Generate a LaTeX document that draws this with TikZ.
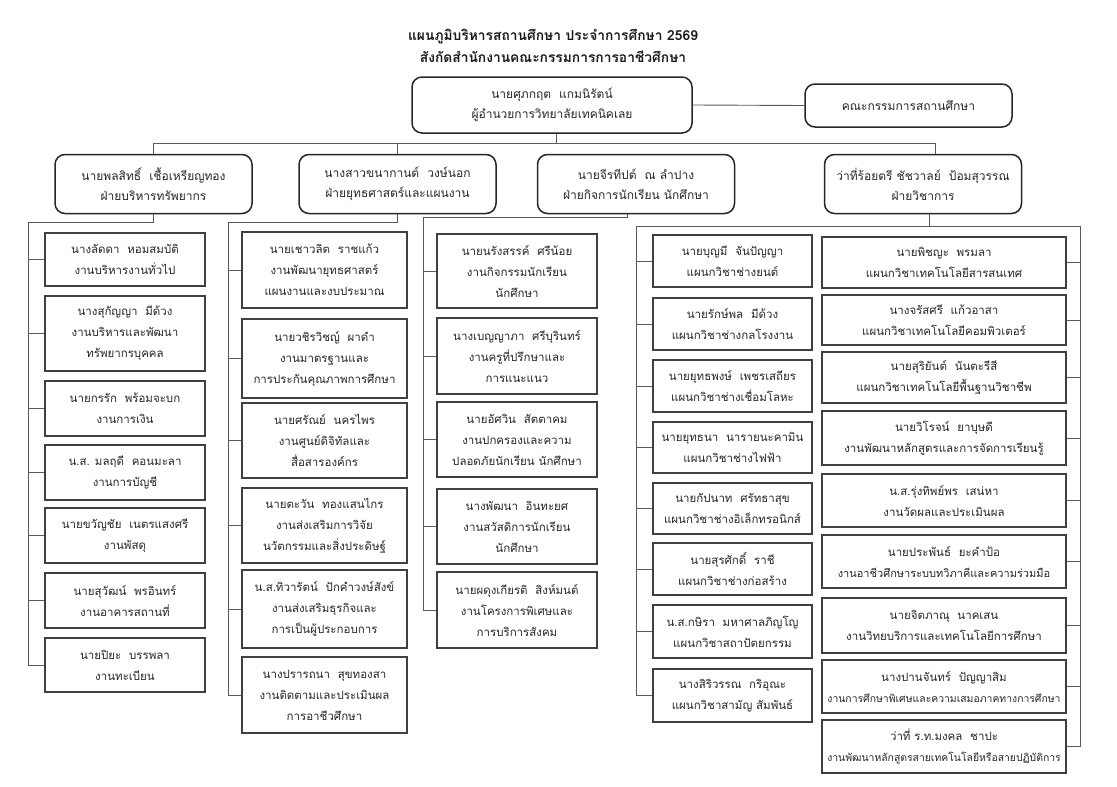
\documentclass[tikz,border=0pt]{standalone}
\usepackage{fontspec}
\newfontfamily\thaifont[Script=Thai]{Loma}
\usepackage{tikz}
\usepackage{xcolor}
\tikzset{
  headbox/.style={draw=black!85, line width=1.5pt, rounded corners=10pt, align=center,
    inner sep=0pt, minimum width=197pt, minimum height=59pt, text=black!85,
    font=\thaifont\fontsize{12}{20}\selectfont},
  unitbox/.style={draw=black!75, line width=1.1pt, align=center, inner sep=0pt,
    text=black!85, font=\thaifont\fontsize{11.5}{21}\selectfont},
  colA/.style={unitbox, minimum width=160pt},
  colB/.style={unitbox, minimum width=165pt},
  colC/.style={unitbox, minimum width=160pt},
  colD/.style={unitbox, minimum width=159pt},
  colE/.style={unitbox, minimum width=244pt},
  link/.style={draw=black!65, line width=0.9pt},
}
\newcommand{\tinyline}[2]{{\fontsize{#1}{21}\selectfont #2}}

\begin{document}
\begin{tikzpicture}[x=1pt, y=-1pt]
  \useasboundingbox (0,0) rectangle (1117,787);

  \node[align=center, text=black!90, font=\thaifont\bfseries\fontsize{13.8}{22}\selectfont] (title) at (553,46)
    {แผนภูมิบริหารสถานศึกษา ประจำการศึกษา 2569\\สังกัดสำนักงานคณะกรรมการการอาชีวศึกษา};

  \node[headbox, minimum width=280pt, minimum height=56pt] (dir) at (552,105)
    {นายศุภกฤต~~แกมนิรัตน์\\ผู้อำนวยการวิทยาลัยเทคนิคเลย};
  \node[headbox, minimum width=207pt, minimum height=43pt] (board) at (908.5,105.5)
    {คณะกรรมการสถานศึกษา};
  \draw[link] (dir.east) -- (board.west);

  % departments
  \node[headbox] (d1) at (153.5,184) {นายพลสิทธิ์~~เชื้อเหรียญทอง\\ฝ่ายบริหารทรัพยากร};
  \node[headbox] (d2) at (397.5,184) {นางสาวขนากานต์~~วงษ์นอก\\ฝ่ายยุทธศาสตร์และแผนงาน};
  \node[headbox] (d3) at (636,184) {นายจีรทีปต์~~ณ ลำปาง\\ฝ่ายกิจการนักเรียน นักศึกษา};
  \node[headbox] (d4) at (923,184) {ว่าที่ร้อยตรี ชัชวาลย์~~ป้อมสุวรรณ\\ฝ่ายวิชาการ};

  \coordinate (top) at ([xshift=4pt]dir.south |- 0,143);
  \draw[link] ([xshift=4pt]dir.south) -- (top);
  \draw[link] (d1.north) |- (top);
  \draw[link] (d2.north) |- (top);
  \draw[link] ([xshift=12pt]d4.north) |- (top);

  % ฝ่ายบริหารทรัพยากร
  \node[colA, minimum height=53pt] (c11) at (125,259.5) {นางลัดดา~~หอมสมบัติ\\งานบริหารงานทั่วไป};
  \node[colA, minimum height=75pt] (c12) at (125,333.5) {นางสุกัญญา~~มีด้วง\\งานบริหารและพัฒนา\\ทรัพยากรบุคคล};
  \node[colA, minimum height=55pt] (c13) at (125,408.5) {นายกรรัก~~พร้อมจะบก\\งานการเงิน};
  \node[colA, minimum height=55pt] (c14) at (125,472.5) {น.ส. มลฤดี~~คอนมะลา\\งานการบัญชี};
  \node[colA, minimum height=55pt] (c15) at (125,535.5) {นายขวัญชัย~~เนตรแสงศรี\\งานพัสดุ};
  \node[colA, minimum height=55pt] (c16) at (125,600.5) {นายสุวัฒน์~~พรอินทร์\\งานอาคารสถานที่};
  \node[colA, minimum height=54pt] (c17) at (125,665) {นายปิยะ~~บรรพลา\\งานทะเบียน};

  \coordinate (b1) at (28,222);
  \draw[link] (d1.south) |- (b1);
  \foreach \n in {c11,c12,c13,c14,c15,c16,c17}
    \draw[link] (b1) |- (\n.west);

  % ฝ่ายยุทธศาสตร์และแผนงาน
  \node[colB, minimum height=76pt] (c21) at (324.5,270) {นายเชาวลิต~~ราชแก้ว\\งานพัฒนายุทธศาสตร์\\แผนงานและงบประมาณ};
  \node[colB, minimum height=79pt] (c22) at (324.5,358.5) {นายวชิรวิชญ์~~ผาดำ\\งานมาตรฐานและ\\การประกันคุณภาพการศึกษา};
  \node[colB, minimum height=75pt] (c23) at (324.5,440.5) {นายศรัณย์~~นครไพร\\งานศูนย์ดิจิทัลและ\\สื่อสารองค์กร};
  \node[colB, minimum height=75pt] (c24) at (324.5,525.5) {นายตะวัน~~ทองแสนไกร\\งานส่งเสริมการวิจัย\\นวัตกรรมและสิ่งประดิษฐ์};
  \node[colB, minimum height=78pt] (c25) at (324.5,609) {น.ส.ทิวารัตน์~~ปักคำวงษ์สังข์\\งานส่งเสริมธุรกิจและ\\การเป็นผู้ประกอบการ};
  \node[colB, minimum height=76pt] (c26) at (324.5,695) {นางปรารถนา~~สุขทองสา\\งานติดตามและประเมินผล\\การอาชีวศึกษา};

  \coordinate (b2) at (228,222);
  \draw[link] (d2.south) |- (b2);
  \foreach \n in {c21,c22,c23,c24,c25,c26}
    \draw[link] (b2) |- (\n.west);

  % ฝ่ายกิจการนักเรียน นักศึกษา
  \node[colC, minimum height=74pt] (c31) at (517,271) {นายนรังสรรค์~~ศรีน้อย\\งานกิจกรรมนักเรียน\\นักศึกษา};
  \node[colC, minimum height=76pt] (c32) at (517,356) {นางเบญญาภา~~ศรีบุรินทร์\\งานครูที่ปรึกษาและ\\การแนะแนว};
  \node[colC, minimum height=75pt] (c33) at (517,439.5) {นายอัศวิน~~สัตตาคม\\งานปกครองและความ\\ปลอดภัยนักเรียน นักศึกษา};
  \node[colC, minimum height=75pt] (c34) at (517,526.5) {นางพัฒนา~~อินทะยศ\\งานสวัสดิการนักเรียน\\นักศึกษา};
  \node[colC, minimum height=76pt] (c35) at (517,610) {นายผดุงเกียรติ~~สิงห์มนต์\\งานโครงการพิเศษและ\\การบริการสังคม};

  \coordinate (b3) at (423,217);
  \draw[link] ([xshift=-9pt]d3.south) |- (b3);
  \foreach \n in {c31,c32,c33,c34,c35}
    \draw[link] (b3) |- (\n.west);

  % ฝ่ายวิชาการ
  \node[colD, minimum height=52pt] (c41) at (732.5,261) {นายบุญมี~~จันปัญญา\\แผนกวิชาช่างยนต์};
  \node[colD, minimum height=52pt] (c42) at (732.5,324) {นายรักษ์พล~~มีด้วง\\แผนกวิชาช่างกลโรงงาน};
  \node[colD, minimum height=52pt] (c43) at (732.5,386) {นายยุทธพงษ์~~เพชรเสถียร\\แผนกวิชาช่างเชื่อมโลหะ};
  \node[colD, minimum height=51pt] (c44) at (732.5,447.5) {นายยุทธนา~~นารายนะคามิน\\แผนกวิชาช่างไฟฟ้า};
  \node[colD, minimum height=51pt] (c45) at (732.5,508.5) {นายกัปนาท~~ศรัทธาสุข\\แผนกวิชาช่างอิเล็กทรอนิกส์};
  \node[colD, minimum height=52pt] (c46) at (732.5,569) {นายสุรศักดิ์~~ราชี\\แผนกวิชาช่างก่อสร้าง};
  \node[colD, minimum height=53pt] (c47) at (732.5,631.5) {น.ส.กษิรา~~มหาศาลภิญโญ\\แผนกวิชาสถาปัตยกรรม};
  \node[colD, minimum height=53pt] (c48) at (732.5,695.5) {นางสิริวรรณ~~กริอุณะ\\แผนกวิชาสามัญ สัมพันธ์};

  \node[colE, minimum height=51pt] (c51) at (944,262.5) {นายพิชญะ~~พรมลา\\แผนกวิชาเทคโนโลยีสารสนเทศ};
  \node[colE, minimum height=50pt] (c52) at (944,320) {นางจรัสศรี~~แก้วอาสา\\แผนกวิชาเทคโนโลยีคอมพิวเตอร์};
  \node[colE, minimum height=51pt] (c53) at (944,377.5) {นายสุริยันต์~~นันตะรีสี\\แผนกวิชาเทคโนโลยีพื้นฐานวิชาชีพ};
  \node[colE, minimum height=54pt] (c54) at (944,438) {นายวิโรจน์~~ยาบุษดี\\งานพัฒนาหลักสูตรและการจัดการเรียนรู้};
  \node[colE, minimum height=53pt] (c55) at (944,500.5) {น.ส.รุ่งทิพย์พร~~เสน่หา\\งานวัดผลและประเมินผล};
  \node[colE, minimum height=53pt] (c56) at (944,561.5) {นายประพันธ์~~ยะคำป้อ\\\tinyline{11}{งานอาชีวศึกษาระบบทวิภาคีและความร่วมมือ}};
  \node[colE, minimum height=55pt] (c57) at (944,625.5) {นายจิตภาณุ~~นาคเสน\\งานวิทยบริการและเทคโนโลยีการศึกษา};
  \node[colE, minimum height=53pt] (c58) at (944,686.5) {นางปานจันทร์~~ปัญญาสิม\\\tinyline{10.4}{งานการศึกษาพิเศษและความเสมอภาคทางการศึกษา}};
  \node[colE, minimum height=53pt] (c59) at (944,746.5) {ว่าที่ ร.ท.มงคล~~ชาปะ\\\tinyline{10.4}{งานพัฒนาหลักสูตรสายเทคโนโลยีหรือสายปฏิบัติการ}};

  \coordinate (b4) at (636,226);
  \coordinate (b5) at (1080,226);
  \draw[link] ([xshift=6pt]d4.south) |- (b4);
  \draw[link] ([xshift=6pt]d4.south) |- (b5);
  \foreach \n in {c41,c42,c43,c44,c45,c46,c47,c48}
    \draw[link] (b4) |- (\n.west);
  \foreach \n in {c51,c52,c53,c54,c55,c56,c57,c58,c59}
    \draw[link] (b5) |- (\n.east);
\end{tikzpicture}
\end{document}
